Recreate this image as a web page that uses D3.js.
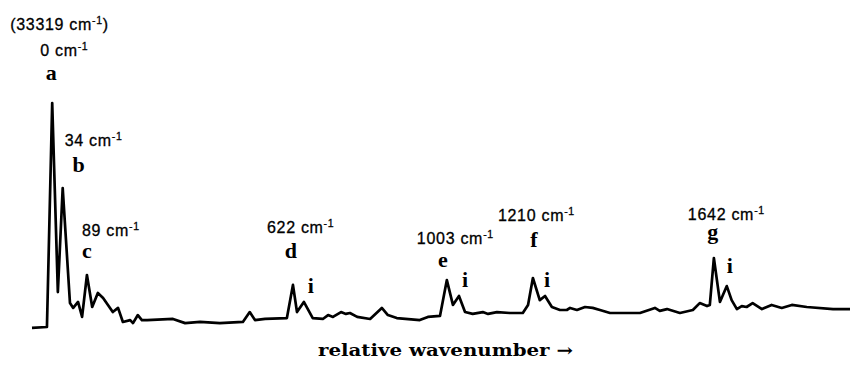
<!DOCTYPE html>
<html>
<head>
<meta charset="utf-8">
<script src="https://cdn.jsdelivr.net/npm/d3@7"></script>
<style>
  html, body { margin: 0; padding: 0; background: #fff; }
  svg { display: block; }
  .shift { font-family: "Liberation Sans", Arial, sans-serif; font-size: 16px; letter-spacing: 0.7px; fill: #000; stroke: #000; stroke-width: 0.3px; }
  .peak { font-family: "Liberation Serif", "Times New Roman", serif; font-weight: bold; font-size: 22px; fill: #000; }
  .axis-label { font-family: "DejaVu Serif", serif; font-weight: bold; font-size: 17px; fill: #000; }
</style>
</head>
<body>
<svg id="chart" width="851" height="369"></svg>
<script>
// ---- data (relative wavenumber in cm^-1, intensity in arbitrary units) ----
const wavenumber = [-50,-13,0,14,26,44,52,64,74,86,99,113,126,138,150,163,175,193,200,212,222,235,299,329,366,415,472,489,502,527,581,596,606,623,645,670,683,695,715,727,737,755,787,816,831,853,910,930,960,977,992,1007,1022,1041,1066,1079,1101,1133,1165,1178,1190,1207,1220,1237,1257,1274,1282,1299,1319,1338,1356,1381,1455,1492,1504,1522,1554,1586,1603,1621,1628,1638,1653,1670,1682,1695,1707,1719,1734,1757,1781,1806,1831,1868,1933,1975];
const intensity  = [0.9,1.3,98.7,16.5,61.7,11.7,9.6,12.2,5.7,23.9,10,16.1,13.9,10.9,7.8,9.6,3.5,4.3,3.0,6.5,4.3,4.3,4.8,3.0,3.5,3.0,3.5,7.8,4.3,4.8,5.2,19.6,7.8,12.2,5.2,4.8,6.5,5.7,7.8,7.0,7.4,5.7,4.8,9.6,6.5,5.2,4.3,5.7,6.1,21.7,10.9,14.8,7.8,7.0,7.8,7.0,7.8,7.4,7.4,10.9,22.6,13.0,14.8,10.0,8.7,8.7,9.6,8.7,10.0,9.6,8.7,7.4,7.4,9.6,8.3,9.1,7.4,8.7,11.7,10.4,10.9,31.3,12.2,19.1,13.0,9.1,10.4,10.0,11.7,9.1,10.9,9.6,10.9,10.0,9.1,9.1];

const peakNames  = ["a","b","c","d","e","f","g"];
const peakPos    = [0, 26, 86, 596, 977, 1190, 1638];           // where each band sits on the trace
const peakShifts = ["0", "34", "89", "622", "1003", "1210", "1642"];
const originValue = "33319";                                     // absolute origin of band a
const satellitePos = [623, 1007, 1220, 1670];                    // "i" bands beside d, e, f, g
const xLabel = "relative wavenumber \u2192";

// ---- layout (pixel offsets, not data) ----
const peakLayout = {
  a: {dx: -1, y: 80,  sx: -12, sy: 56},
  b: {dx: 16, y: 172, sx: 2,   sy: 146},
  c: {dx: 0,  y: 258, sx: -5,  sy: 236},
  d: {dx: -2, y: 258, sx: -26, sy: 233},
  e: {dx: -4, y: 267, sx: -30, sy: 244},
  f: {dx: 1,  y: 247, sx: -35, sy: 221},
  g: {dx: -1, y: 239, sx: -26, sy: 220}
};
const satLayout = [{dx: 7, y: 293}, {dx: 6, y: 287}, {dx: 2, y: 287}, {dx: 3, y: 273}];

const svg = d3.select("#chart");
const x = d3.scaleLinear().domain([-50, 1975]).range([32, 850]);
const y = d3.scaleLinear().domain([0, 100]).range([330, 100]);

const pts = wavenumber.map((w, i) => [w, intensity[i]]);
svg.append("path")
  .datum(pts)
  .attr("fill", "none")
  .attr("stroke", "#000")
  .attr("stroke-width", 2.7)
  .attr("stroke-linejoin", "round")
  .attr("d", d3.line().x(d => x(d[0])).y(d => y(d[1])));

function shiftLabel(xpos, ypos, txt, close) {
  const t = svg.append("text").attr("class", "shift").attr("x", xpos).attr("y", ypos);
  t.append("tspan").text(txt + " cm");
  t.append("tspan").attr("dy", -6).attr("font-size", "10.5px").text("-1");
  if (close) t.append("tspan").attr("dy", 6).text(")");
}

// origin label
shiftLabel(x(0) - 42, 30, "(" + originValue, true);

peakNames.forEach((n, i) => {
  const L = peakLayout[n];
  const px = x(peakPos[i]);
  svg.append("text").attr("class", "peak").attr("text-anchor", "middle")
    .attr("x", px + L.dx).attr("y", L.y).text(n);
  shiftLabel(px + L.sx, L.sy, peakShifts[i], false);
});

satellitePos.forEach((p, i) => {
  svg.append("text").attr("class", "peak").attr("text-anchor", "middle")
    .attr("x", x(p) + satLayout[i].dx).attr("y", satLayout[i].y).text("i");
});

svg.append("text").attr("class", "axis-label")
  .attr("x", 318).attr("y", 356)
  .attr("textLength", 255).attr("lengthAdjust", "spacingAndGlyphs")
  .text(xLabel);
</script>
</body>
</html>
